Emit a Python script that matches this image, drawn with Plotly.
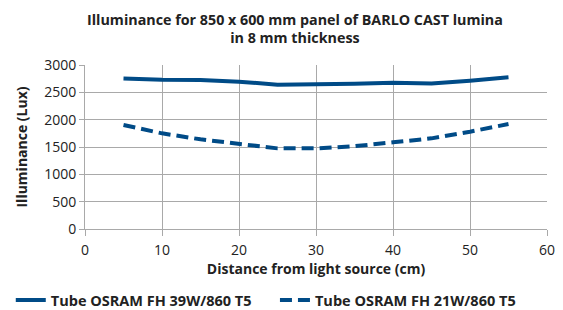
import plotly.graph_objects as go

distance = [5, 10, 15, 20, 25, 30, 35, 40, 45, 50, 55]
tube_39w = [2755, 2730, 2725, 2695, 2640, 2640, 2655, 2675, 2660, 2712, 2775]
tube_21w = [1902, 1750, 1640, 1549, 1475, 1475, 1515, 1585, 1658, 1780, 1920]
series_names = ["Tube OSRAM FH 39W/860 T5", "Tube OSRAM FH 21W/860 T5"]

color = "#004b87"
grid = "#a9a9a9"
font = "Open Sans"

fig = go.Figure()
fig.add_trace(go.Scatter(x=distance, y=tube_39w, mode="lines", name="<b>" + series_names[0] + "</b>",
                         line=dict(color=color, width=4), legend="legend"))
fig.add_trace(go.Scatter(x=distance, y=tube_21w, mode="lines", name="<b>" + series_names[1] + "</b>",
                         line=dict(color=color, width=4, dash="12px,6px"), legend="legend2"))

legend_common = dict(orientation="h", xanchor="left", xref="container",
                     y=0.033, yanchor="middle", yref="container",
                     font=dict(family=font, size=14.5), itemwidth=30)

fig.update_layout(
    width=555, height=302,
    margin=dict(l=77, r=16, t=57, b=81),
    paper_bgcolor="white", plot_bgcolor="white",
    font=dict(family=font, size=14, color="#222"),
    title=dict(text="<b>Illuminance for 850 x 600 mm panel of BARLO CAST lumina<br>in 8 mm thickness</b>",
               x=0.517, xanchor="center", xref="container", y=0.945, yanchor="top", yref="container",
               font=dict(family=font, size=14.3, color="#222")),
    xaxis=dict(range=[0, 60], dtick=10, showgrid=True, gridcolor=grid, gridwidth=1,
               showline=True, linecolor=grid, ticks="outside", ticklen=6, tickcolor=grid,
               zeroline=False, automargin=False, tickfont=dict(size=14), ticklabelstandoff=2,
               title=dict(text="<b>Distance from light source (cm)</b>", standoff=4,
                          font=dict(family=font, size=14))),
    yaxis=dict(range=[0, 3000], dtick=500, showgrid=True, gridcolor=grid, gridwidth=1,
               showline=True, linecolor=grid, ticks="outside", ticklen=5, tickcolor=grid,
               zeroline=False, automargin=False, tickfont=dict(size=14),
               title=dict(text="<b>Illuminance (Lux)</b>", standoff=13,
                          font=dict(family=font, size=14))),
    legend=dict(x=0.005, **legend_common),
    legend2=dict(x=0.481, **legend_common),
    showlegend=True,
)

fig.write_html("out.html")
